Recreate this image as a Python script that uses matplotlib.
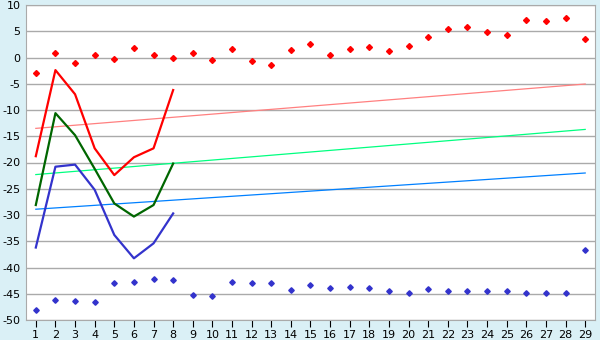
import matplotlib
matplotlib.use('Agg')
import matplotlib.pyplot as plt

plt.rcParams['axes.unicode_minus'] = False

days = list(range(1, 30))

# scatter series (top and bottom)
red_pts = [-3.0, 0.8, -1.1, 0.4, -0.35, 1.75, 0.4, 0.0, 0.8, -0.5,
           1.55, -0.7, -1.5, 1.35, 2.5, 0.4, 1.55, 1.95, 1.2, 2.1,
           4.0, 5.35, 5.75, 4.8, 4.2, 7.1, 6.9, 7.45, 3.45]
blue_pts = [-48.0, -46.1, -46.45, -46.6, -43.0, -42.8, -42.25, -42.45, -45.3, -45.5,
            -42.8, -43.0, -43.0, -44.35, -43.4, -43.95, -43.8, -43.95, -44.5, -44.9,
            -44.15, -44.5, -44.5, -44.5, -44.5, -44.9, -44.9, -44.9, -36.7]

# line series for first 8 days
line_days = list(range(1, 9))
red_line = [-18.8, -2.4, -7.0, -17.3, -22.4, -19.0, -17.3, -6.2]
green_line = [-28.1, -10.6, -14.8, -21.2, -27.8, -30.3, -28.1, -20.2]
blue_line = [-36.2, -20.8, -20.4, -25.2, -33.8, -38.25, -35.4, -29.7]

# trend lines (end points)
trend_x = [1, 29]
trend_red = [-13.5, -5.05]
trend_green = [-22.3, -13.7]
trend_blue = [-28.9, -22.0]

fig = plt.figure(figsize=(6, 3.4), dpi=100)
fig.patch.set_facecolor('#daf0f6')
ax = fig.add_axes([26 / 600, 1 - 320 / 340, 569 / 600, 315 / 340])
ax.set_facecolor('white')

ax.plot(trend_x, trend_red, color='#ff8080', lw=0.9)
ax.plot(trend_x, trend_green, color='#00ff80', lw=0.9)
ax.plot(trend_x, trend_blue, color='#0080ff', lw=0.9)

ax.plot(line_days, red_line, color='#ff0000', lw=1.6)
ax.plot(line_days, green_line, color='#006600', lw=1.6)
ax.plot(line_days, blue_line, color='#3333cc', lw=1.6)

ax.plot(days, red_pts, ls='none', marker='D', ms=3, color='#ff0000')
ax.plot(days, blue_pts, ls='none', marker='D', ms=2.8, color='#3333cc')

ax.set_xlim(0.5, 29.5)
ax.set_ylim(-50, 10)
ax.set_xticks(days)
ax.set_yticks(range(-50, 11, 5))
ax.grid(axis='y', color='#aaaaaa', lw=1)
ax.set_axisbelow(True)
for s in ax.spines.values():
    s.set_color('#aaaaaa')
ax.tick_params(axis='y', length=0, pad=4, labelsize=8)
ax.tick_params(axis='x', length=5, color='black', pad=2, labelsize=8)

fig.savefig('out.png', dpi=100, facecolor=fig.get_facecolor())
